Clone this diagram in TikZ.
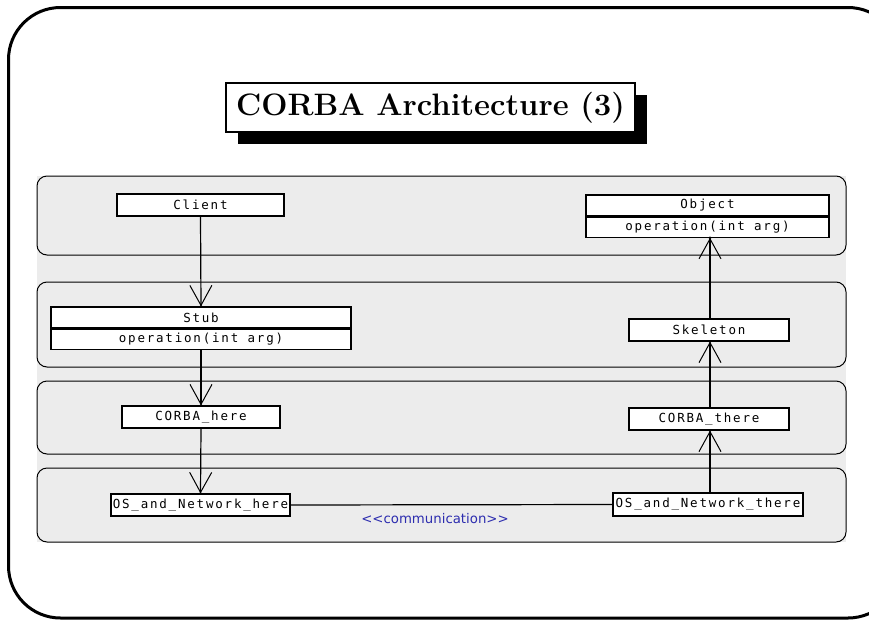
\documentclass[tikz,border=0pt]{standalone}
\usepackage{fontspec}
\newfontfamily\umlfont[LetterSpace=14.4]{DejaVu Sans Mono}
\newfontfamily\notefont{DejaVu Sans}
\usetikzlibrary{arrows.meta,shadows}
\definecolor{panelgray}{RGB}{236,236,236}
\definecolor{noteblue}{RGB}{45,45,175}

\begin{document}
\begin{tikzpicture}[x=1pt,y=-1pt,
  frame/.style={line width=3pt, rounded corners=52pt},
  layer/.style={draw=black, fill=panelgray, line width=1pt, rounded corners=10pt},
  titlebox/.style={draw=black, fill=white, line width=2pt, inner sep=0pt,
    minimum width=409pt, minimum height=49pt,
    font=\fontsize{31}{36}\selectfont\bfseries,
    general shadow={fill=black, shadow xshift=12pt, shadow yshift=-12pt}},
  cls/.style={draw=black, fill=white, line width=1.2pt, inner sep=0pt,
    minimum height=22pt, text=black,
    font=\umlfont\fontsize{12.5}{14}\selectfont},
  dep/.style={line width=1.2pt,
    -{Straight Barb[length=20pt,width=22pt,line width=1pt]}},
  tipdot/.style={fill=black},
  note/.style={text=noteblue, inner sep=0pt,
    font=\notefont\fontsize{13.3}{15}\selectfont}
]
\useasboundingbox (0,0) rectangle (869,621);

% outer slide frame; its right side runs past the page edge
\begin{scope}
  \clip (0,0) rectangle (869,621);
  \draw[frame] (8.5,7.5) rectangle (900,618);
\end{scope}

% title
\node[titlebox] (title) at (430.5,107.5) {CORBA Architecture (3)};

% layer panels
\fill[panelgray] (37,176) rectangle (846,542);
\path[layer] (37,176) rectangle (846,255);
\path[layer] (37,282) rectangle (846,367);
\path[layer] (37,381) rectangle (846,454);
\path[layer] (37,468) rectangle (846,542);

% classes
\node[cls, minimum width=167pt] (client) at (200.5,205) {Client};

\node[cls, minimum width=300pt, minimum height=21pt] (stub) at (201,317.5) {Stub};
\node[cls, minimum width=300pt, minimum height=20pt, anchor=north] (stubops) at (stub.south) {operation(int arg)};

\node[cls, minimum width=243pt, minimum height=21pt] (object) at (707.5,205.5) {Object};
\node[cls, minimum width=243pt, minimum height=20pt, anchor=north] (objops) at (object.south) {operation(int arg)};

\node[cls, minimum width=160pt] (skeleton) at (709,330) {Skeleton};
\node[cls, minimum width=158pt] (corbahere) at (201,417) {CORBA\_here};
\node[cls, minimum width=160pt] (corbathere) at (709,419) {CORBA\_there};
\node[cls, minimum width=179pt] (oshere) at (200.5,505) {OS\_and\_Network\_here};
\node[cls, minimum width=190pt, minimum height=23pt] (osthere) at (708,504.5) {OS\_and\_Network\_there};

% vertical line used by the server-side dependencies
\coordinate (rx) at (710,0);

% client side, top to bottom
\draw[dep] (client.south) -- (stub.north);
\draw[dep] (stubops.south) -- (corbahere.north);
\draw[dep] (corbahere.south) -- (oshere.north);
\fill[tipdot] (stub.north) circle (1.5pt);
\fill[tipdot] (corbahere.north) circle (1.5pt);
\fill[tipdot] (oshere.north) circle (1.5pt);

% server side, bottom to top
\draw[dep] (osthere.north -| rx) -- (corbathere.south -| rx);
\draw[dep] (corbathere.north -| rx) -- (skeleton.south -| rx);
\draw[dep] (skeleton.north -| rx) -- (objops.south -| rx);
\fill[tipdot] (corbathere.south -| rx) circle (1.5pt);
\fill[tipdot] (skeleton.south -| rx) circle (1.5pt);
\fill[tipdot] (objops.south -| rx) circle (1.5pt);

% communication link
\draw[line width=1.2pt] (oshere.east) -- (osthere.west);
\node[note] (comm) at (435,519) {<{}<communication>{}>};
\end{tikzpicture}
\end{document}
